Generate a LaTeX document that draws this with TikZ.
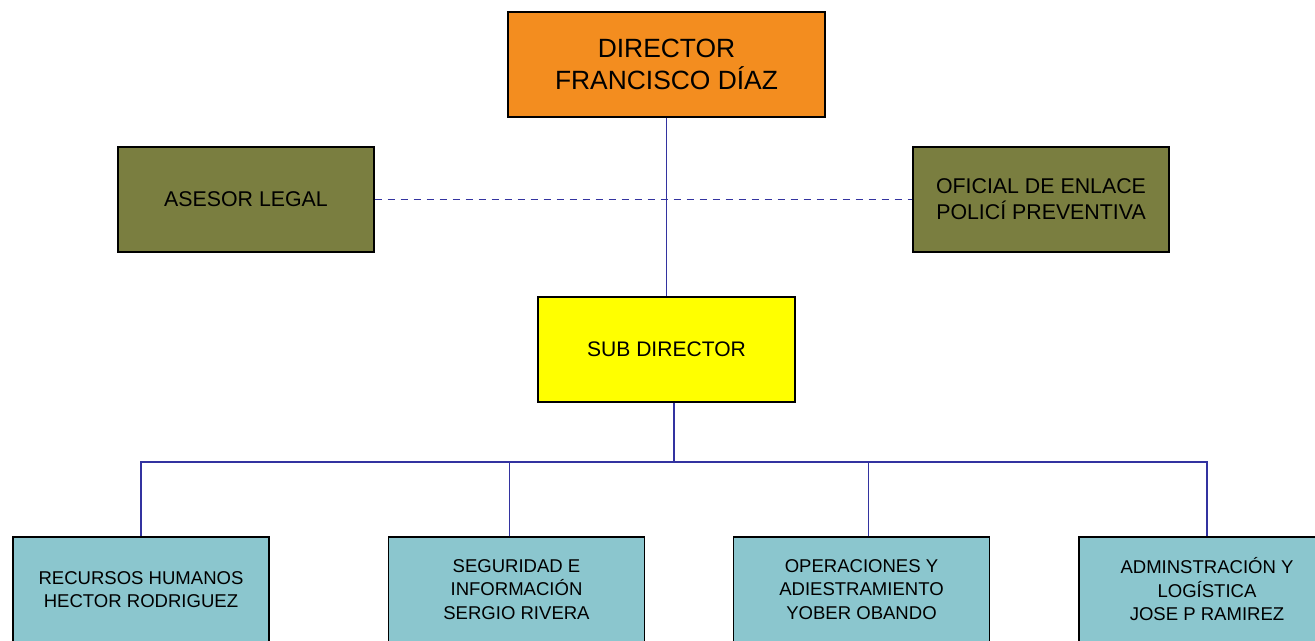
\documentclass[tikz,border=0pt]{standalone}
\usepackage{fontspec}
\setmainfont{Liberation Sans}
\usepackage{xcolor}
\usetikzlibrary{
		calc,
		positioning,
		arrows.meta
	}
\definecolor{jefe}{RGB}{243,141,31}
\definecolor{asesoria}{RGB}{122,126,64}
\definecolor{subjefe}{RGB}{255,255,0}
\definecolor{depto}{RGB}{139,198,206}
\definecolor{linea}{RGB}{51,51,160}
\tikzset{
		>=stealth,
		cargo/.style={draw=black, line width=1pt, align=center, inner sep=0pt,
			minimum width=192pt, minimum height=78.75pt},
		mando/.style={draw=linea, line width=1.2pt},
		apoyo/.style={draw=linea, line width=1.2pt, dash pattern=on 5.25pt off 4.5pt}
	}

\begin{document}
\begin{tikzpicture}[x=0.75pt, y=-0.75pt]
		\useasboundingbox (0,0) rectangle (1315,640);
		\clip (0,0) rectangle (1315,640);
		% lineas
		\coordinate (bus) at (674,462);
		% cargos
		\node[cargo, fill=jefe, minimum width=237.75pt, font=\fontsize{19.8}{24}\selectfont] (director) at (666.5,64.5) {DIRECTOR\\FRANCISCO DÍAZ};
		\node[cargo, fill=asesoria, font=\fontsize{16}{19.5}\selectfont] (asesor) at (246,199.5) {ASESOR LEGAL};
		\node[cargo, fill=asesoria, font=\fontsize{16}{19.5}\selectfont] (oficial) at (1041,199.5) {OFICIAL DE ENLACE\\POLICÍ PREVENTIVA};
		\node[cargo, fill=subjefe, minimum width=192.75pt, font=\fontsize{15.8}{19.5}\selectfont] (subdir) at (666.5,349.5) {SUB DIRECTOR};
		\node[cargo, fill=depto, font=\fontsize{13.9}{17.6}\selectfont] (rrhh) at (141,589.5) {RECURSOS HUMANOS\\HECTOR RODRIGUEZ};
		\node[cargo, fill=depto, font=\fontsize{13.9}{17.6}\selectfont] (seguridad) at (516.5,589.5) {SEGURIDAD E\\INFORMACIÓN\\SERGIO RIVERA};
		\node[cargo, fill=depto, font=\fontsize{13.9}{17.6}\selectfont] (operaciones) at (861.5,589.5) {OPERACIONES Y\\ADIESTRAMIENTO\\YOBER OBANDO};
		\node[cargo, fill=depto, font=\fontsize{13.9}{17.6}\selectfont] (logistica) at (1207,589.5) {ADMINSTRACIÓN Y\\LOGÍSTICA\\JOSE P RAMIREZ};
		\draw[mando] (director.south) -- (subdir.north);
		\draw[apoyo] (asesor.east) -- (oficial.west);
		\draw[mando] (bus |- subdir.south) -- (bus);
		\draw[mando] (rrhh.north) |- (bus) -| (logistica.north);
		\draw[mando] ([xshift=-5.25pt]seguridad.north) -- ([xshift=-5.25pt]seguridad.north |- bus);
		\draw[mando] ([xshift=5.25pt]operaciones.north) -- ([xshift=5.25pt]operaciones.north |- bus);
	\end{tikzpicture}
\end{document}
